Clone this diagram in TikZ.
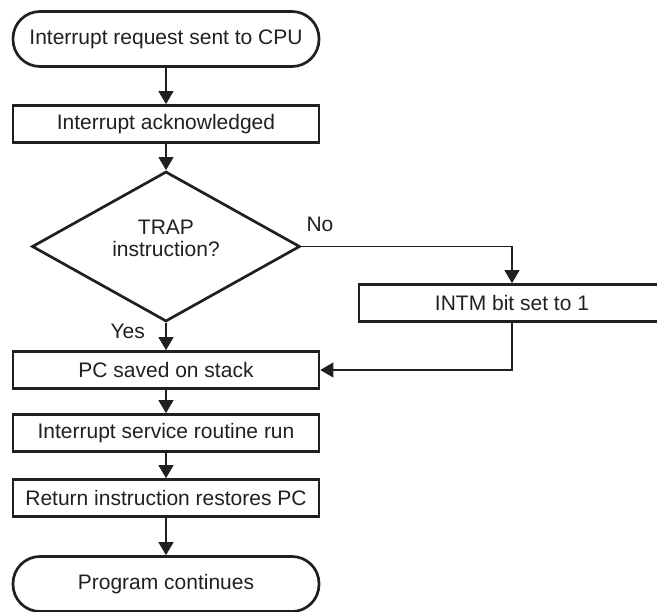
\documentclass[tikz,border=0pt]{standalone}
\usepackage{fontspec}
\setmainfont{Liberation Sans}
\usepackage{tikz}
\usetikzlibrary{arrows.meta,shapes.geometric,positioning}
\definecolor{ink}{HTML}{231F20}
\tikzset{
  txt/.style     = {font=\fontsize{21}{22}\selectfont, text=ink},
  stepbox/.style = {draw=ink, line width=2.7pt, txt, inner sep=0pt,
                    minimum width=306pt, minimum height=37pt},
  termbox/.style = {stepbox, rounded corners=27pt, minimum height=55pt},
  decbox/.style  = {diamond, draw=ink, line width=2.7pt, inner sep=0pt,
                    minimum width=268pt, minimum height=150pt},
  flow/.style    = {-{Triangle[length=13pt,width=15pt]}, ink, line width=1.1pt},
  lbl/.style     = {txt, inner sep=0pt}
}
\begin{document}
\begin{tikzpicture}[x=1pt,y=-1pt]
  \clip (0,0) rectangle (657,612);
  \node[termbox] (req)  at (166,39)    {Interrupt request sent to CPU};
  \node[stepbox] (ack)  at (166,124)   {Interrupt acknowledged};
  \node[decbox]  (trap) at (166,246.5) {};
  \node[lbl,align=center] (traptxt) at (166,238.5) {TRAP\\instruction?};
  \node[stepbox] (intm) at (512,303)   {INTM bit set to 1};
  \node[stepbox] (pc)   at (166,370)   {PC saved on stack};
  \node[stepbox] (isr)  at (166,433)   {Interrupt service routine run};
  \node[stepbox] (ret)  at (166,498)   {Return instruction restores PC};
  \node[termbox] (cont) at (166,584)   {Program continues};
  % branch labels
  \node[lbl,above right=15pt and 5pt of trap.east] (no)  {No};
  \node[lbl,below left=1pt and 21pt of trap.south] (yes) {Yes};
  % connectors
  \draw[flow] (req)  -- (ack);
  \draw[flow] (ack)  -- (trap);
  \draw[flow] (trap) -- (pc);
  \draw[flow] (trap.east) -| (intm.north);
  \draw[flow] (intm.south) |- (pc.east);
  \draw[flow] (pc)   -- (isr);
  \draw[flow] (isr)  -- (ret);
  \draw[flow] (ret)  -- (cont);
\end{tikzpicture}
\end{document}
